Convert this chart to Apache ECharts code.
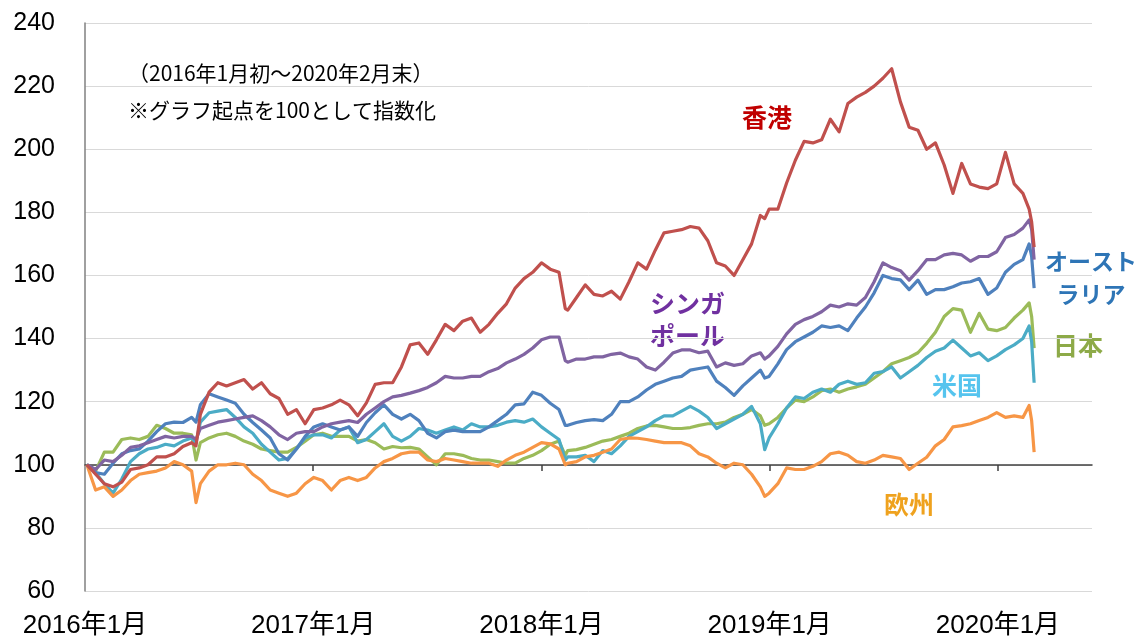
<!DOCTYPE html>
<html>
<head>
<meta charset="utf-8">
<script src="https://cdn.jsdelivr.net/npm/echarts@6/dist/echarts.min.js"></script>
<style>
html,body{margin:0;padding:0;background:#fff;}
#chart{width:1138px;height:642px;}
</style>
</head>
<body>
<div id="chart"></div>
<script>
// ---- data (index, start = 100) ----
const dates = [
  '2016-01-04','2016-01-18','2016-02-01','2016-02-15','2016-02-29','2016-03-14','2016-03-28','2016-04-11','2016-04-25','2016-05-09',
  '2016-05-23','2016-06-06','2016-06-20','2016-06-27','2016-07-04','2016-07-18','2016-08-01','2016-08-15','2016-08-29','2016-09-12',
  '2016-09-26','2016-10-10','2016-10-24','2016-11-07','2016-11-21','2016-12-05','2016-12-19',
  '2017-01-02','2017-01-16','2017-01-30','2017-02-13','2017-02-27','2017-03-13','2017-03-27','2017-04-10','2017-04-24','2017-05-08',
  '2017-05-22','2017-06-05','2017-06-19','2017-07-03','2017-07-17','2017-07-31','2017-08-14','2017-08-28','2017-09-11','2017-09-25',
  '2017-10-09','2017-10-23','2017-11-06','2017-11-20','2017-12-04','2017-12-18',
  '2018-01-01','2018-01-15','2018-01-29','2018-02-08','2018-02-12','2018-02-26','2018-03-12','2018-03-26','2018-04-09','2018-04-23',
  '2018-05-07','2018-05-21','2018-06-04','2018-06-18','2018-07-02','2018-07-16','2018-07-30','2018-08-13','2018-08-27','2018-09-10',
  '2018-09-24','2018-10-08','2018-10-22','2018-11-05','2018-11-19','2018-12-03','2018-12-17','2018-12-24','2018-12-31',
  '2019-01-14','2019-01-28','2019-02-11','2019-02-25','2019-03-11','2019-03-25','2019-04-08','2019-04-22','2019-05-06','2019-05-20',
  '2019-06-03','2019-06-17','2019-07-01','2019-07-15','2019-07-29','2019-08-12','2019-08-26','2019-09-09','2019-09-23','2019-10-07',
  '2019-10-21','2019-11-04','2019-11-18','2019-12-02','2019-12-16','2019-12-30',
  '2020-01-13','2020-01-27','2020-02-10','2020-02-20','2020-02-24','2020-02-28'
];

const hongKong = [
  100,97,94,93,94.5,98.5,99,100,102.5,102.5,103.5,105.8,107,106,116,123,126,125,126,127,124,126,122.5,121,116,117.5,113,
  117.5,118,119,120.5,119,115.5,119.6,125.5,126,126,131,138,138.6,135,139.6,144.5,142.5,145.5,146.5,142,144.5,148,151,156,159,161,
  164,162,161,149.5,149,153,157,154,153.5,155,152.5,158,164,162,168,173.5,174,174.5,175.5,175,171,164,163,160,165,170,179,178,181,
  181,189.3,196.5,202.5,202,203,209.5,205.5,214.5,216.5,218,220,222.5,225.5,215,207,206,200,202,195,186,195.5,189,188,187.5,189,
  199,189,186,181,177,169
];
const singapore = [
  100,98.5,101.5,101,103,105.5,106,107,108,109,108.5,109,109,108,111.5,112.5,113.5,114,114.5,115,115.5,114,112,109.5,108,110,110.5,
  110.5,112,113,113.5,114,113.4,116,118,120,121.5,122,122.7,123.5,124.5,126,128,127.5,127.5,128,128,129.5,130.5,132.3,133.5,135,137,
  139.6,140.5,140.5,133,132.5,133.5,133.5,134.2,134.2,135,135.4,134.2,133.5,131,130,132.5,135.4,136.4,136.4,135.5,136,131,132.3,131.5,132,134.5,135.5,133.5,134.5,
  137.5,141.5,144.5,146,147,148.5,150.6,150,151,150.6,153,158,164,162.5,161.5,158.5,161.5,165,165,166.5,167,166.5,164.5,166,166,167.5,
  172,173,175,177.6,174.5,165
];
const australia = [
  100,97.5,97,100.5,103.5,104.5,105,107.5,110.5,113,113.5,113.4,115,113.5,119,122.5,121.5,120.5,119.5,116,113.4,111,108.5,103.5,101.5,105,109,
  112,113,112,111,112,109,113.4,116.5,119,116,114.5,116,114,110,108.5,110.5,111,110.5,110.5,110.5,112,114,116,119,119.3,123,
  122,119.5,117.5,112.5,112.5,113.4,114,114.3,114,116,120,120,121.5,123.7,125.5,126.5,127.5,128,130,130.5,131,126.5,124.5,122,125,127.5,130,127.5,128,
  132,136.5,139,140.5,142,144,143.5,144,142.5,146.5,150,154.5,160,159,158.6,155.5,158.5,154,155.5,155.5,156.4,157.6,158,159,154,156,
  161,163.5,165,170,166,156
];
const japan = [
  100,98,104,104,108,108.5,108,109,112.5,111.5,110,110,109.5,101.5,107,108.5,109.5,110,109,107.5,106.5,105,104.5,104,104,105.5,107.5,
  109.5,110,109,109,109,107.5,108,107,105,105.8,105.4,105.5,105,102.5,100,103.5,103.5,103,102,101.5,101.5,101,100.5,100.5,102,103,
  104.5,106.5,107.5,103,104.5,104.8,105.5,106.5,107.5,108,109,110,111.5,112.3,112.5,112,111.5,111.5,111.8,112.5,113,113,113.5,115,116,117.5,115.5,112.5,113,
  115,118,120.5,120,121.5,123.5,124,123,124,124.7,125.5,127.5,129.5,132,133,134,135.5,138.5,142,147,149.5,149,142,148,143,142.5,
  143.5,146.5,149,151.3,147,137
];
const usa = [
  100,97.5,94,91,95.5,101,103.5,105,105.5,106.5,106,107.5,108.5,107,113.5,116.5,117,117.5,115,112,110,106.5,104,101.5,102,105,108.5,
  109.5,109.5,108.5,111,112,107,108,110.5,113,109,107.5,109,111.5,111,110,111,112,111,113,112,112,112.5,113.5,114,113.5,114.5,
  112,110,108,101.5,102.5,102.5,103,101,104.5,103.5,106,109,110.5,112,114,115.5,115.5,117,118.5,117,115,111.5,113,114.5,116,118.5,113,104.8,108.5,
  113,118,121.5,121,123,124,123,125.5,126.5,125.5,126,129,129.5,131,127.5,129.5,131.5,134,136,137,139.5,137,134.5,135.5,133,134.5,
  136.5,138,140,144,139,126
];
const europe = [
  100,92,93,90,92,95,97,97.5,98,99,101,100,98,88,94,98,100,100,100.5,100,97,95,92,91,90,91,94,
  96,95,92,95,96,95,96,99,101,102,103.5,104,104,101.5,101,102,101.5,101,100.5,100.5,100.5,99.5,101.5,103,104,105.5,
  107,106.6,105,100,100.5,101,102.5,103,104,105,108,108.5,108.4,108,107.5,107,107,107,106,103.5,102.5,100.5,99,100.5,100,97,93,90,91,
  94,99,98.5,98.5,99.5,101,103.5,104,103,101,100.5,101.5,103,102.5,102,98.5,100.5,102.4,106,108,112,112.4,113,114,115,116.5,
  115,115.5,115,118.8,114,104
];

const labelYears = [2016, 2017, 2018, 2019, 2020];
const tickYears = [2017, 2018, 2019, 2020];
const noteLines = ['（2016年1月初～2020年2月末）', '※グラフ起点を100として指数化'];

// ---- helpers ----
function toYear(s) {
  const p = s.split('-').map(Number);
  const t = Date.UTC(p[0], p[1] - 1, p[2]);
  const t0 = Date.UTC(p[0], 0, 1), t1 = Date.UTC(p[0] + 1, 0, 1);
  return p[0] + (t - t0) / (t1 - t0);
}
function pairs(arr) { return dates.map((d, i) => [toYear(d), arr[i]]); }

const seriesDefs = [
  { name: '日本', data: japan, color: '#9BBB59' },
  { name: '米国', data: usa, color: '#4BACC6' },
  { name: '欧州', data: europe, color: '#F79646' },
  { name: 'オーストラリア', data: australia, color: '#4F81BD' },
  { name: 'シンガポール', data: singapore, color: '#8064A2' },
  { name: '香港', data: hongKong, color: '#C0504D' }
];

const FONT = "'Liberation Sans', 'Noto Sans CJK JP', sans-serif";
const CJK = "'Noto Sans CJK JP', sans-serif";
const X_MIN = 2016, X_MAX = 2020.412;

function label(text, x, y, color, align, size) {
  return {
    type: 'text', x: x, y: y, silent: true,
    style: { text: text, fill: color, font: 'bold ' + (size || 25) + 'px ' + CJK, align: align || 'left', verticalAlign: 'middle' }
  };
}

const chart = echarts.init(document.getElementById('chart'), null, { renderer: 'canvas' });
chart.setOption({
  animation: false,
  backgroundColor: '#fff',
  grid: { left: 85, right: 46, top: 23, bottom: 51, containLabel: false },
  xAxis: [
    {
      type: 'value', min: X_MIN, max: X_MAX, position: 'bottom',
      axisLine: { show: false, onZero: false },
      axisTick: { show: false },
      splitLine: { show: false },
      axisLabel: {
        customValues: labelYears,
        formatter: v => v + '年1月',
        fontSize: 26, color: '#000', fontFamily: FONT, margin: 22
      }
    },
    {
      type: 'value', min: X_MIN, max: X_MAX, position: 'bottom', offset: -126,
      axisLine: { show: true, onZero: false, lineStyle: { color: '#404040', width: 1.5 } },
      axisTick: { show: true, customValues: tickYears, length: 6, lineStyle: { color: '#404040', width: 1.5 } },
      axisLabel: { show: false },
      splitLine: { show: false }
    }
  ],
  yAxis: {
    type: 'value', min: 60, max: 240, interval: 20,
    axisLine: { show: true, lineStyle: { color: '#808080', width: 1.5 } },
    axisTick: { show: false },
    splitLine: { show: true, lineStyle: { color: '#D9D9D9', width: 1 } },
    axisLabel: { fontSize: 25, color: '#000', fontFamily: FONT, margin: 30 }
  },
  series: seriesDefs.map(s => ({
    name: s.name, type: 'line', data: pairs(s.data),
    xAxisIndex: 0, showSymbol: false, symbol: 'none',
    lineStyle: { color: s.color, width: 3.2, join: 'round' },
    itemStyle: { color: s.color }
  })),
  graphic: [
    { type: 'text', x: 128, y: 73, silent: true, style: { text: noteLines[0], fill: '#000', font: '21px ' + CJK, verticalAlign: 'middle' } },
    { type: 'text', x: 128, y: 110, silent: true, style: { text: noteLines[1], fill: '#000', font: '21px ' + CJK, verticalAlign: 'middle' } },
    label('香港', 767, 117, '#C00000', 'center'),
    label('シンガ', 650, 303, '#7030A0', 'left'),
    label('ポール', 650, 335, '#7030A0', 'left'),
    label('オースト', 1091, 261, '#2E75B6', 'center', 23),
    label('ラリア', 1091, 294, '#2E75B6', 'center', 23),
    label('日本', 1078, 345, '#8DAA48', 'center'),
    label('米国', 957, 385, '#56C4EE', 'center'),
    label('欧州', 909, 504, '#EFA21E', 'center')
  ]
});
</script>
</body>
</html>
